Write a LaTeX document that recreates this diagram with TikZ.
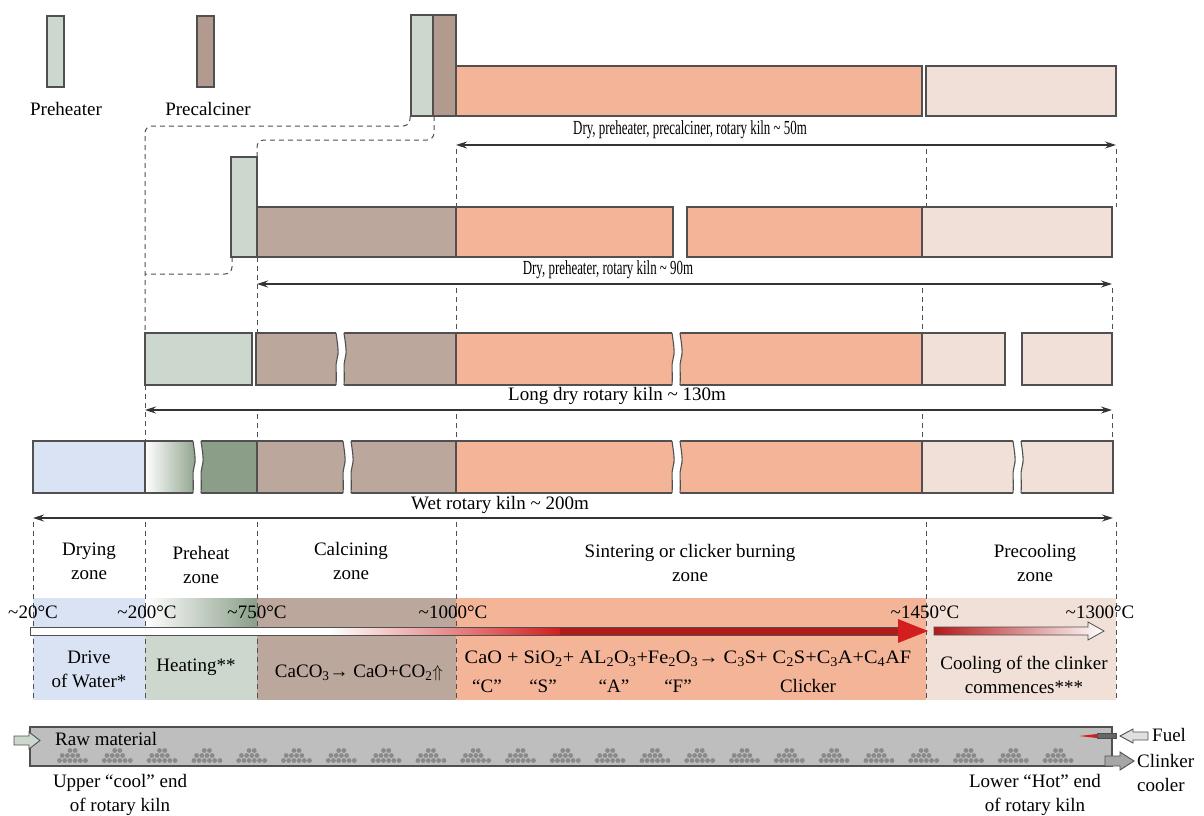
\documentclass[tikz,border=0pt]{standalone}
\usepackage{fontspec}
\setmainfont{Liberation Serif}
\usetikzlibrary{arrows.meta}

\definecolor{phgreen}{HTML}{CCD8CD}
\definecolor{pcbrown}{HTML}{B39A8E}
\definecolor{calbrown}{HTML}{BCA79D}
\definecolor{sinter}{HTML}{F4B498}
\definecolor{precool}{HTML}{F0E0D8}
\definecolor{drywater}{HTML}{D9E3F3}
\definecolor{darkgreen}{HTML}{8A9E88}
\definecolor{rimgrey}{HTML}{505050}
\definecolor{heatred}{HTML}{D21E1E}
\definecolor{kilngrey}{HTML}{BEBEBE}
\definecolor{pellet}{HTML}{8A8A8A}

\tikzset{
  kilnbox/.style={draw=rimgrey, line width=1.1pt},
  guide/.style={draw=rimgrey, line width=1pt, dash pattern=on 5pt off 4pt},
  dimline/.style={draw=black!80, line width=1.1pt,
    {Stealth[length=11pt,width=7pt]}-{Stealth[length=11pt,width=7pt]}},
  lbl/.style={inner sep=0pt, align=center},
  brk/.pic={
    \fill[white] (-4,-1.5) -- (-4,0) .. controls (-2,14) and (-1,20) .. (-3,26)
      .. controls (-5,32) and (-3,40) .. (-4,52) -- (-4,53.5) -- (4,53.5) -- (4,52)
      .. controls (5,40) and (3,32) .. (5,26) .. controls (7,20) and (6,14) .. (4,0)
      -- (4,-1.5) -- cycle;
    \draw[rimgrey, line width=1.1pt] (-4,0) .. controls (-2,14) and (-1,20) .. (-3,26)
      .. controls (-5,32) and (-3,40) .. (-4,52);
    \draw[rimgrey, line width=1.1pt] (4,0) .. controls (6,14) and (7,20) .. (5,26)
      .. controls (3,32) and (5,40) .. (4,52);
  }
}

\begin{document}
\begin{tikzpicture}[x=1pt, y=-1pt, font=\fontsize{19}{24}\selectfont]
    \useasboundingbox (0,0) rectangle (1204,816);

    % legend
    \draw[kilnbox, fill=phgreen] (47,16) rectangle (64,87);
    \node[lbl] (phlegend) at (66,109) {Preheater};
    \draw[kilnbox, fill=pcbrown] (197,16) rectangle (214,87);
    \node[lbl] (pclegend) at (208,109) {Precalciner};

    % dashed routes from the towers
    \draw[guide, rounded corners=7pt] (410,116) -- (410,126) -- (145,126) -- (145,333);
    \draw[guide, rounded corners=7pt] (434,116) -- (434,140) -- (257,140) -- (257,207);
    \draw[guide, rounded corners=7pt] (232,257) -- (232,274) -- (145,274);

    % dry, preheater, precalciner
    \draw[kilnbox, fill=phgreen] (411,15) rectangle (433,116);
    \draw[kilnbox, fill=pcbrown] (433,15) rectangle (456,116);
    \draw[kilnbox, fill=sinter] (456,66) rectangle (922,116);
    \draw[kilnbox, fill=precool] (926,66) rectangle (1116,116);
    \coordinate (r1a) at (456,145);
    \coordinate (r1b) at (1116,145);
    \draw[dimline] (r1a) -- (r1b);
    \node[lbl] (r1lab) at (690,130) {\scalebox{0.68}[1.05]{Dry, preheater, precalciner, rotary kiln \textasciitilde{} 50m}};
    \foreach \x in {456,926,1116} \draw[guide] (\x,149) -- (\x,207);

    % dry, preheater
    \draw[kilnbox, fill=phgreen] (231,157) rectangle (257,257);
    \draw[kilnbox, fill=calbrown] (257,207) rectangle (456,257);
    \draw[kilnbox, fill=sinter] (456,207) rectangle (673,257);
    \draw[kilnbox, fill=sinter] (687,207) rectangle (922,257);
    \draw[kilnbox, fill=precool] (922,207) rectangle (1112,257);
    \coordinate (r2a) at (257,284);
    \coordinate (r2b) at (1112,284);
    \draw[dimline] (r2a) -- (r2b);
    \node[lbl] (r2lab) at (608,270) {\scalebox{0.68}[1.05]{Dry, preheater, rotary kiln \textasciitilde{} 90m}};
    \draw[guide] (257,257) -- (257,333);
    \foreach \x in {456,922,1112} \draw[guide] (\x,288) -- (\x,333);

    % long dry
    \draw[kilnbox, fill=phgreen] (145,333) rectangle (252,385);
    \draw[kilnbox, fill=calbrown] (256,333) rectangle (456,385);
    \draw[kilnbox, fill=sinter] (456,333) rectangle (922,385);
    \draw[kilnbox, fill=precool] (922,333) rectangle (1005,385);
    \draw[kilnbox, fill=precool] (1022,333) rectangle (1112,385);
    \pic at (340,333) {brk};
    \pic at (676,333) {brk};
    \coordinate (r3a) at (145,410);
    \coordinate (r3b) at (1112,410);
    \draw[dimline] (r3a) -- (r3b);
    \node[lbl] (r3lab) at (617,396) {Long dry rotary kiln \textasciitilde{} 130m};
    \draw[guide] (145,385) -- (145,441);
    \foreach \x in {257,456,922,1112} \draw[guide] (\x,414) -- (\x,441);

    % wet
    \draw[kilnbox, fill=drywater] (33,441) rectangle (145,493);
    \draw[kilnbox, left color=white, right color=darkgreen] (145,441) rectangle (199,493);
    \draw[kilnbox, fill=darkgreen] (199,441) rectangle (257,493);
    \draw[kilnbox, fill=calbrown] (257,441) rectangle (456,493);
    \draw[kilnbox, fill=sinter] (456,441) rectangle (922,493);
    \draw[kilnbox, fill=precool] (922,441) rectangle (1113,493);
    \pic at (197,441) {brk};
    \pic at (347,441) {brk};
    \pic at (676,441) {brk};
    \pic at (1017,441) {brk};
    \coordinate (r4a) at (33,518);
    \coordinate (r4b) at (1113,518);
    \draw[dimline] (r4a) -- (r4b);
    \node[lbl] (r4lab) at (500,505) {Wet rotary kiln \textasciitilde{} 200m};

    % zone band
    \fill[drywater] (33,598) rectangle (145,700);
    \shade[left color=white, right color=darkgreen] (145,598) rectangle (257,631);
    \fill[phgreen] (145,631) rectangle (257,700);
    \fill[calbrown] (257,598) rectangle (456,700);
    \fill[sinter] (456,598) rectangle (926,700);
    \fill[precool] (926,598) rectangle (1116,700);
    \foreach \x in {33,145,257,456,926,1116} \draw[guide] (\x,522) -- (\x,700);

    \node[lbl] (dryz) at (89,561) {Drying\\zone};
    \node[lbl] (prez) at (201,565) {Preheat\\zone};
    \node[lbl] (calz) at (351,561) {Calcining\\zone};
    \node[lbl] (sinz) at (690,563) {Sintering or clicker burning\\zone};
    \node[lbl] (pcz) at (1035,563) {Precooling\\zone};

    % temperature arrows
    \fill[white] (30,627) rectangle (330,635);
    \shade[left color=white, right color=heatred] (330,627) rectangle (560,635);
    \fill[heatred!85!black] (560,627) rectangle (900,635);
    \draw[rimgrey, line width=0.8pt] (30,627) rectangle (900,635);
    \fill[heatred] (898,619) -- (928,631) -- (898,643) -- cycle;
    \draw[rimgrey, line width=0.8pt, left color=heatred!85!black, middle color=heatred!35, right color=white]
      (934,627) -- (1088,627) -- (1088,622) -- (1104,631) -- (1088,640) -- (1088,635) -- (934,635) -- cycle;

    \node[lbl] (t20) at (33,612) {\textasciitilde20°C};
    \node[lbl] (t200) at (147,612) {\textasciitilde200°C};
    \node[lbl] (t750) at (257,612) {\textasciitilde750°C};
    \node[lbl] (t1000) at (453,612) {\textasciitilde1000°C};
    \node[lbl] (t1450) at (925,612) {\textasciitilde1450°C};
    \node[lbl] (t1300) at (1100,612) {\textasciitilde1300°C};

    % reactions
    \node[lbl] (drive) at (89,669) {Drive\\of Water*};
    \node[lbl] (heat) at (196,667) {Heating**};
    \node[lbl] (calc) at (359,673) {CaCO\textsubscript{3}→ CaO+CO\textsubscript{2}$\Uparrow$};
    \node[lbl] (sint) at (688,659) {\scalebox{1.07}[1]{CaO + SiO\textsubscript{2}+ AL\textsubscript{2}O\textsubscript{3}+Fe\textsubscript{2}O\textsubscript{3}→ C\textsubscript{3}S+ C\textsubscript{2}S+C\textsubscript{3}A+C\textsubscript{4}AF}};
    \node[lbl] (oxc) at (487,686) {“C”};
    \node[lbl] (oxs) at (543,686) {“S”};
    \node[lbl] (oxa) at (614,686) {“A”};
    \node[lbl] (oxf) at (678,686) {“F”};
    \node[lbl] (clk) at (808,686) {Clicker};
    \node[lbl] (cool) at (1024,675) {Cooling of the clinker\\commences***};

    % rotary kiln
    \draw[rimgrey, line width=1.6pt, fill=kilngrey] (30,727) rectangle (1112,766);
    \foreach \i in {0,...,22} {
        \foreach \k in {0,...,5} \fill[pellet] ({57+44.8*\i+2.5+5.2*\k},760.5) circle (2.4pt);
        \foreach \k in {1,...,4} \fill[pellet] ({57+44.8*\i+5.2*\k},755.5) circle (2.4pt);
        \foreach \k in {2,3} \fill[pellet] ({57+44.8*\i+2.5+5.2*\k},750.5) circle (2.4pt);
    }
    \node[lbl, anchor=west] (raw) at (55,739) {Raw material};
    \draw[rimgrey, line width=0.9pt, fill=phgreen]
      (14,736) -- (29,736) -- (29,732) -- (40,740.5) -- (29,749) -- (29,745) -- (14,745) -- cycle;

    % burner, fuel and clinker outlet
    \fill[heatred] (1079,736) -- (1097,734) -- (1097,738) -- cycle;
    \draw[rimgrey, line width=0.8pt, fill=black!60] (1097,733) rectangle (1116,738);
    \draw[rimgrey, line width=0.9pt, fill=black!12]
      (1120,736) -- (1133,729) -- (1133,732) -- (1148,732) -- (1148,740) -- (1133,740) -- (1133,743) -- cycle;
    \draw[rimgrey, line width=0.9pt, fill=black!35]
      (1105,756) -- (1120,756) -- (1120,752) -- (1134,761) -- (1120,770) -- (1120,766) -- (1105,766) -- cycle;
    \node[lbl, anchor=west] (fuel) at (1152,735) {Fuel};
    \node[lbl, anchor=north west, align=left] (cooler) at (1137,754) {Clinker\\cooler};

    \node[lbl] (upend) at (120,795) {Upper “cool” end\\of rotary kiln};
    \node[lbl] (lowend) at (1035,795) {Lower “Hot” end\\of rotary kiln};
\end{tikzpicture}
\end{document}
